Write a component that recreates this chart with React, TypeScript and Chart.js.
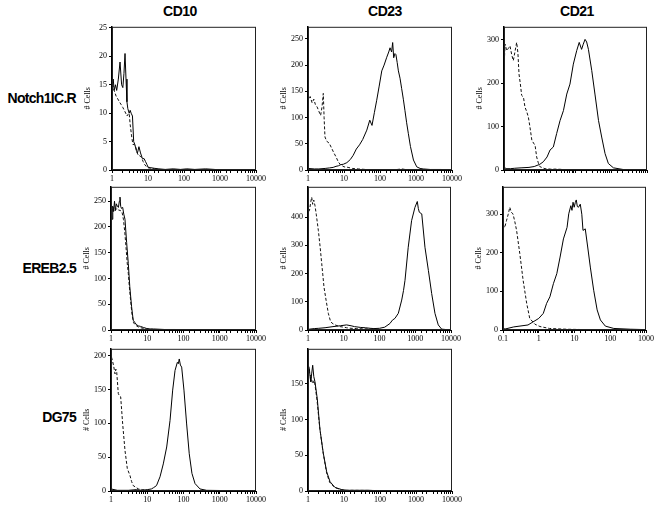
import React, { useEffect, useRef } from 'react';
import { Chart, registerables } from 'chart.js';
Chart.register(...registerables);

// Column titles / row labels
const columnTitles = ['CD10', 'CD23', 'CD21'];
const rowLabels = ['Notch1IC.R', 'EREB2.5', 'DG75'];

// Panel 1: CD10 / Notch1IC.R
const solidX1 = [1, 1.02, 1.08, 1.15, 1.25, 1.35, 1.5, 1.67, 1.85, 2.0, 2.15, 2.3, 2.45, 2.6, 2.75, 3.0, 3.2, 3.4, 3.7, 4.0, 4.3, 4.7, 5.1, 5.6, 6.2, 7.0, 7.8, 8.5, 9.3, 10, 12, 15, 20, 30, 50, 80, 120, 200, 400, 700, 1000, 10000];
const solidY1 = [25, 15, 16, 14, 15, 14, 16, 19, 15, 14.5, 17, 20.5, 16, 12, 10.8, 10, 10.5, 10, 9.5, 5, 4.5, 3.5, 3, 4.1, 3, 2, 2, 1.5, 1, 0.5, 0.4, 0.3, 0.2, 0.1, 0.2, 0.1, 0.2, 0.1, 0.2, 0.1, 0, 0];
const dashX1 = [1, 1.05, 1.15, 1.3, 1.45, 1.6, 1.8, 2.0, 2.2, 2.4, 2.6, 2.8, 3.0, 3.2, 3.5, 3.8, 4.2, 4.6, 5.0, 5.5, 6.0, 6.6, 7.3, 8.0, 9.0, 10, 12, 15, 20, 30, 100, 10000];
const dashY1 = [16, 15, 14, 13, 12.5, 12, 11.5, 11, 10.5, 10, 9.5, 9.8, 10, 8, 6, 4.5, 4.5, 4, 3, 2.5, 2.5, 2.2, 1.5, 1, 0.6, 0.4, 0.3, 0.2, 0.1, 0, 0, 0];

// Panel 2: CD23 / Notch1IC.R
const solidX2 = [1, 1.5, 2, 3, 4, 5, 6, 7, 8, 9.6, 12, 15, 18, 22, 27, 33, 43, 52, 60, 70, 81, 95, 112, 130, 154, 175, 190, 210, 225, 240, 260, 277, 300, 324, 360, 400, 445, 494, 550, 611, 700, 850, 1050, 1300, 1580, 2500, 5000, 10000];
const solidY2 = [3, 2, 2, 3, 4, 5, 7, 8, 10, 11, 14, 20, 28, 40, 48, 58, 76, 95, 85, 110, 133, 160, 189, 200, 215, 225, 233, 225, 243, 214, 222, 220, 205, 189, 175, 155, 135, 113, 90, 70, 45, 19, 6, 3, 2, 1, 1, 0];
const dashX2 = [1, 1.01, 1.05, 1.15, 1.3, 1.45, 1.6, 1.8, 2.0, 2.24, 2.45, 2.66, 2.8, 2.96, 3.3, 3.9, 4.5, 5.2, 6.0, 7.0, 8.0, 10, 13, 17, 25, 40, 100, 300, 400, 500, 1000, 10000];
const dashY2 = [275, 150, 135, 140, 128, 135, 125, 120, 112, 104, 120, 146, 100, 63, 55, 51, 42, 33, 25, 15, 10, 6, 5, 3, 2, 1, 0.5, 1, 2, 1, 0, 0];

// Panel 3: CD21 / Notch1IC.R
const solidX3 = [0.1, 0.101, 0.105, 0.12, 0.15, 0.2, 0.3, 0.5, 0.7, 1.0, 1.26, 1.6, 1.94, 2.4, 2.97, 3.7, 4.6, 5.7, 7.0, 8.7, 10.8, 12.7, 14.8, 16.5, 18.5, 20.5, 23, 28.5, 35, 44, 54, 67, 83, 115, 220, 1000];
const solidY3 = [40, 10, 5, 3, 3, 4, 5, 6, 8, 13, 19, 30, 46, 53, 84, 114, 137, 175, 198, 244, 275, 294, 278, 290, 301, 295, 278, 229, 175, 114, 76, 38, 15, 5, 1, 0];
const dashX3 = [0.1, 0.102, 0.107, 0.119, 0.132, 0.147, 0.165, 0.182, 0.2, 0.226, 0.245, 0.263, 0.285, 0.312, 0.35, 0.386, 0.43, 0.48, 0.53, 0.6, 0.67, 0.74, 0.82, 0.9, 1.0, 1.2, 1.4, 2, 3, 5, 10, 1000];
const dashY3 = [330, 250, 290, 275, 280, 286, 265, 252, 270, 294, 270, 221, 200, 172, 168, 145, 135, 122, 100, 69, 62, 57, 30, 18, 8, 5, 3, 2, 2, 1, 0, 0];

// Panel 4: CD10 / EREB2.5
const solidX4 = [1, 1.03, 1.07, 1.12, 1.18, 1.25, 1.32, 1.4, 1.5, 1.6, 1.7, 1.77, 1.85, 1.95, 2.1, 2.25, 2.43, 2.7, 3.0, 3.3, 3.7, 4.1, 4.6, 5.1, 5.7, 6.5, 7.8, 9.6, 12, 15, 30, 60, 100, 10000];
const solidY4 = [212, 245, 215, 240, 230, 250, 232, 245, 240, 238, 250, 258, 240, 236, 238, 225, 215, 170, 129, 84, 45, 19, 14, 10, 8, 7, 5, 3, 2, 2, 1, 1, 0, 0];
const dashX4 = [1, 1.05, 1.1, 1.2, 1.3, 1.45, 1.6, 1.8, 2.0, 2.2, 2.4, 2.6, 2.8, 3.0, 3.2, 3.5, 3.8, 4.2, 4.8, 6, 8, 10, 15, 10000];
const dashY4 = [230, 225, 240, 235, 232, 236, 233, 232, 230, 215, 190, 160, 130, 110, 85, 55, 30, 14, 9, 5, 3, 2, 1, 0];

// Panel 5: CD23 / EREB2.5
const solidX5 = [1, 1.02, 1.1, 1.5, 2, 3, 5, 8, 12, 16, 20, 30, 40, 55, 70, 100, 140, 196, 230, 270, 336, 418, 470, 517, 636, 790, 980, 1140, 1220, 1300, 1520, 1870, 2330, 2880, 3560, 4400, 5480, 10000];
const solidY5 = [60, 5, 3, 5, 6, 8, 12, 15, 18, 15, 12, 9, 8, 6, 5, 6, 10, 23, 35, 41, 59, 106, 140, 176, 293, 387, 434, 455, 430, 417, 411, 293, 211, 129, 59, 18, 3, 0];
const dashX5 = [1, 1.01, 1.05, 1.1, 1.2, 1.27, 1.35, 1.45, 1.57, 1.7, 1.95, 2.2, 2.42, 2.6, 2.8, 3.2, 3.7, 4.3, 5.0, 5.7, 7.0, 7.9, 10, 12, 16, 23, 35, 54, 100, 150, 10000];
const dashY5 = [505, 400, 420, 423, 455, 470, 445, 460, 440, 410, 352, 290, 235, 195, 152, 106, 59, 29, 22, 18, 14, 12, 10, 8, 6, 5, 4, 4, 2, 0, 0];

// Panel 6: CD21 / EREB2.5
const solidX6 = [0.1, 0.101, 0.105, 0.12, 0.2, 0.5, 1.0, 1.34, 1.66, 2.05, 2.57, 3.2, 3.95, 4.9, 6.2, 6.9, 7.9, 8.5, 9.1, 9.8, 10.5, 11.2, 12.0, 12.9, 14.5, 16, 17.3, 20, 23.4, 27.7, 34.4, 43, 53, 73, 126, 370, 1000];
const solidY6 = [20, 5, 3, 3, 8, 13, 30, 43, 69, 86, 120, 146, 189, 236, 266, 301, 322, 310, 331, 318, 330, 337, 320, 318, 326, 300, 258, 262, 215, 163, 103, 52, 26, 10, 4, 2, 1];
const dashX6 = [0.1, 0.101, 0.105, 0.112, 0.125, 0.14, 0.155, 0.17, 0.19, 0.215, 0.24, 0.295, 0.365, 0.46, 0.56, 0.78, 1.08, 2.0, 6, 20, 100, 1000];
const dashY6 = [371, 240, 270, 266, 283, 300, 318, 305, 301, 280, 258, 198, 129, 69, 30, 15, 9, 4, 2, 1, 1, 1];

// Panel 7: CD10 / DG75
const solidX7 = [1, 1.5, 3, 5, 7, 10, 13, 15, 18, 22.5, 27.7, 34.4, 42.5, 50.3, 58.4, 67.6, 72, 76.4, 82, 89, 103, 122, 144, 171, 208, 285, 433, 10000];
const solidY7 = [3, 1, 1, 2, 1, 2, 3, 5, 8, 21, 40, 65, 104, 149, 178, 190, 188, 195, 186, 183, 149, 99, 55, 26, 11, 3, 1, 0];
const dashX7 = [1, 1.03, 1.09, 1.18, 1.29, 1.36, 1.44, 1.59, 1.72, 1.85, 2.1, 2.43, 2.82, 3.33, 3.7, 4.1, 5.0, 5.7, 7.5, 9.7, 15, 10000];
const dashY7 = [205, 198, 193, 185, 173, 180, 175, 144, 140, 139, 99, 60, 33, 23, 14, 8, 5, 3, 2, 1, 0, 0];

// Panel 8: CD23 / DG75
const solidX8 = [1, 1.01, 1.05, 1.09, 1.14, 1.19, 1.27, 1.35, 1.45, 1.56, 1.81, 2.15, 2.66, 3.3, 4.1, 5.6, 8.6, 12, 50, 100, 10000];
const solidY8 = [195, 185, 175, 171, 160, 153, 165, 176, 160, 153, 129, 86, 53, 27, 13, 5, 2, 1, 1, 0, 0];
const dashX8 = [1, 1.03, 1.1, 1.2, 1.35, 1.5, 1.65, 1.8, 2.1, 2.6, 3.3, 4.0, 5.5, 8, 10, 10000];
const dashY8 = [190, 175, 165, 160, 150, 155, 140, 125, 90, 55, 25, 12, 5, 2, 1, 0];

// Axis ranges per panel
const xMins = [1, 1, 0.1, 1, 1, 0.1, 1, 1];
const xMaxs = [10000, 10000, 1000, 10000, 10000, 1000, 10000, 10000];
const yMaxs = [25.2, 273, 330, 278, 507, 371, 210, 199];
const ySteps = [5, 50, 100, 50, 100, 100, 50, 50];
const yTopTicks = [25, 250, 300, 250, 400, 300, 200, 150];

type PanelDef = {
  L: number; R: number; T: number; B: number;
  idx: number; sx: number[]; sy: number[]; dx: number[]; dy: number[]; xLabels: boolean;
};

const panels: PanelDef[] = [
  { L: 112, R: 256, T: 26, B: 170, idx: 0, sx: solidX1, sy: solidY1, dx: dashX1, dy: dashY1, xLabels: true },
  { L: 308, R: 452, T: 26, B: 170, idx: 1, sx: solidX2, sy: solidY2, dx: dashX2, dy: dashY2, xLabels: true },
  { L: 504, R: 647, T: 26, B: 170, idx: 2, sx: solidX3, sy: solidY3, dx: dashX3, dy: dashY3, xLabels: false },
  { L: 111, R: 256, T: 186, B: 330, idx: 3, sx: solidX4, sy: solidY4, dx: dashX4, dy: dashY4, xLabels: true },
  { L: 308, R: 451, T: 186, B: 330, idx: 4, sx: solidX5, sy: solidY5, dx: dashX5, dy: dashY5, xLabels: true },
  { L: 503, R: 646, T: 186, B: 330, idx: 5, sx: solidX6, sy: solidY6, dx: dashX6, dy: dashY6, xLabels: true },
  { L: 111, R: 256, T: 348, B: 491, idx: 6, sx: solidX7, sy: solidY7, dx: dashX7, dy: dashY7, xLabels: true },
  { L: 308, R: 452, T: 348, B: 491, idx: 7, sx: solidX8, sy: solidY8, dx: dashX8, dy: dashY8, xLabels: true },
];

const PAD_L = 40, PAD_T = 6, PAD_R = 16, PAD_B = 16;
const serif = '"Liberation Serif", "Times New Roman", serif';
const sans = '"Liberation Sans", Arial, Helvetica, sans-serif';

const framePlugin = {
  id: 'frame',
  afterDraw(chart: any) {
    const { ctx, chartArea } = chart;
    const { left, top, right, bottom } = chartArea;
    ctx.save();
    ctx.strokeStyle = '#222';
    ctx.lineWidth = 1;
    ctx.strokeRect(left + 0.5, top + 0.5, right - left - 1, bottom - top - 1);
    ctx.restore();
  },
};

function PanelChart({ p }: { p: PanelDef }) {
  const ref = useRef<HTMLCanvasElement>(null);
  const w = p.R - p.L + PAD_L + PAD_R;
  const h = p.B - p.T + PAD_T + PAD_B;
  useEffect(() => {
    const pts = (xs: number[], ys: number[]) => xs.map((x, i) => ({ x, y: ys[i] }));
    const yMax = yMaxs[p.idx];
    const yStep = ySteps[p.idx];
    const yTop = yTopTicks[p.idx];
    const chart = new Chart(ref.current as HTMLCanvasElement, {
      type: 'line',
      data: {
        datasets: [
          { data: pts(p.dx, p.dy), borderColor: '#111', borderWidth: 1, borderDash: [3, 2], pointRadius: 0, tension: 0, fill: false },
          { data: pts(p.sx, p.sy), borderColor: '#000', borderWidth: 1, pointRadius: 0, tension: 0, fill: false },
        ],
      },
      options: {
        animation: false,
        responsive: false,
        maintainAspectRatio: false,
        events: [],
        layout: { padding: { left: 0, top: PAD_T, right: PAD_R, bottom: 0 } },
        plugins: { legend: { display: false }, tooltip: { enabled: false } },
        scales: {
          x: {
            type: 'logarithmic',
            min: xMins[p.idx],
            max: xMaxs[p.idx],
            afterFit: (s: any) => { s.height = PAD_B; },
            grid: { display: true, drawOnChartArea: false, tickLength: 3, color: '#000' },
            border: { display: true, color: '#000', width: 1 },
            ticks: {
              autoSkip: false,
              maxRotation: 0,
              minRotation: 0,
              padding: 1,
              color: '#000',
              font: { family: serif, size: 8 },
              callback: (v: any) => {
                if (!p.xLabels) return '';
                const l = Math.log10(Number(v));
                const r = Math.round(l);
                if (Math.abs(l - r) > 1e-6) return '';
                return r < 0 ? '0.1' : String(Math.pow(10, r));
              },
            },
          },
          y: {
            min: 0,
            max: yMax,
            afterFit: (s: any) => { s.width = PAD_L; },
            afterBuildTicks: (s: any) => {
              const arr: { value: number }[] = [];
              for (let v = 0; v <= yTop + 1e-9; v += yStep) arr.push({ value: v });
              s.ticks = arr;
            },
            grid: { display: true, drawOnChartArea: false, tickLength: 3, color: '#000' },
            border: { display: true, color: '#000', width: 1.5 },
            ticks: { padding: 2, color: '#000', font: { family: serif, size: 8 }, callback: (v: any) => String(v) },
            title: { display: true, text: '# Cells', color: '#000', padding: { top: 11, bottom: 0 }, font: { family: serif, size: 8 } },
          },
        },
      } as any,
      plugins: [framePlugin],
    });
    return () => chart.destroy();
  }, []);
  return (
    <canvas
      ref={ref}
      width={w}
      height={h}
      style={{ position: 'absolute', left: p.L - PAD_L, top: p.T - PAD_T, width: w, height: h }}
    />
  );
}

const titleCenters = [180, 385, 577];
const rowTops = [91, 261, 410];

export default function App() {
  return (
    <div style={{ position: 'absolute', left: 0, top: 0, width: 655, height: 508, background: '#fff', overflow: 'hidden' }}>
      {columnTitles.map((t, i) => (
        <div key={t} style={{ position: 'absolute', left: titleCenters[i] - 50, width: 100, top: 4, textAlign: 'center', font: `bold 14px ${sans}`, lineHeight: 1, letterSpacing: '-0.5px', color: '#000' }}>{t}</div>
      ))}
      {rowLabels.map((t, i) => (
        <div key={t} style={{ position: 'absolute', left: 0, width: 76, top: rowTops[i], textAlign: 'right', font: `bold 14px ${sans}`, lineHeight: 1, letterSpacing: '-0.7px', color: '#000', whiteSpace: 'nowrap' }}>{t}</div>
      ))}
      {panels.map((p) => (
        <PanelChart key={p.idx} p={p} />
      ))}
    </div>
  );
}
